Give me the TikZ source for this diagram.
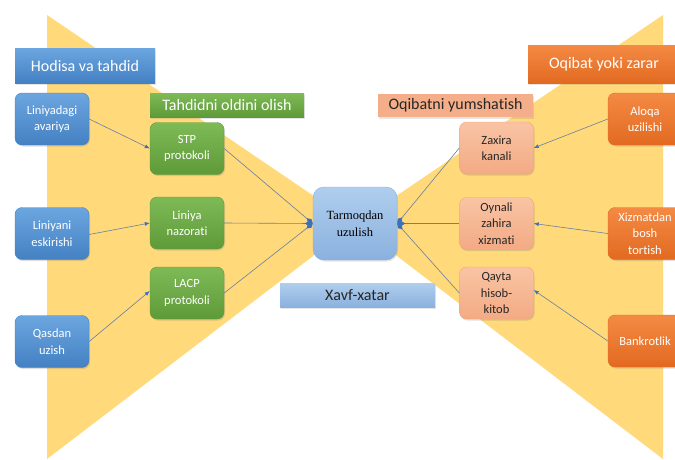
\documentclass[tikz,border=0pt]{standalone}
\usepackage{fontspec}
\setmainfont{Carlito}[Ligatures=NoCommon]
\newfontfamily\timesfont{Liberation Serif}
\usepackage{tikz}
\usetikzlibrary{positioning,arrows.meta,shadows}

\definecolor{sand}{RGB}{255,217,122}
\definecolor{blueA}{RGB}{108,166,224}
\definecolor{blueB}{RGB}{68,129,195}
\definecolor{greenA}{RGB}{126,186,86}
\definecolor{greenB}{RGB}{94,154,56}
\definecolor{orangeA}{RGB}{244,138,68}
\definecolor{orangeB}{RGB}{226,106,32}
\definecolor{salmonA}{RGB}{249,196,164}
\definecolor{salmonB}{RGB}{243,170,132}
\definecolor{skyA}{RGB}{176,206,238}
\definecolor{skyB}{RGB}{138,177,222}
\definecolor{wire}{RGB}{104,128,162}
\definecolor{tipblue}{RGB}{62,110,190}

\tikzset{
    node distance=20pt, % distance between the boxes of a column
    box/.style={rounded corners=7pt, minimum width=74pt, minimum height=52pt,
        align=center, inner sep=1pt, font=\fontsize{12.5}{16.5}\selectfont,
        drop shadow={shadow xshift=1pt, shadow yshift=-1.5pt, opacity=0.25}},
    head/.style={minimum height=24pt, inner sep=2pt,
        font=\fontsize{16}{19}\selectfont,
        drop shadow={shadow xshift=1pt, shadow yshift=-1.5pt, opacity=0.2}},
    cause/.style={box, top color=blueA, bottom color=blueB, draw=blueB, text=white},
    guard/.style={box, top color=greenA, bottom color=greenB, draw=greenB, text=white},
    harm/.style={box, top color=orangeA, bottom color=orangeB, draw=orangeB, text=white},
    soften/.style={box, top color=salmonA, bottom color=salmonB, draw=salmonB!90!orangeB, text=black!85},
    link/.style={draw=wire, line width=0.6pt},
    toarrow/.style={link, -{Latex[length=5pt,width=4pt,color=tipblue]}},
}

\begin{document}
\begin{tikzpicture}[x=1pt,y=-1pt]
   \useasboundingbox (0,0) rectangle (675,459);
   % yellow bow tie
   \fill[sand] (47,15) -- (47,459) -- (355,224) -- cycle;
   \fill[sand] (663,15) -- (663,459) -- (355,224) -- cycle;

   % causes
   \node[cause] (avariya)  at (52,119)   {Liniyadagi\\avariya};
   \node[cause] (eskirish) at (52,233.5) {Liniyani\\eskirishi};
   \node[cause] (qasdan)   at (52,341.5) {Qasdan\\uzish};

   % prevention
   \node[guard] (stp)     at (187,148.5) {STP\\protokoli};
   \node[guard] (nazorat) at (187,223)   {Liniya\\nazorati};
   \node[guard] (lacp)    at (187,293)   {LACP\\protokoli};

   % event
   \node[rounded corners=11pt, minimum width=84pt, minimum height=73pt, align=center,
         top color=skyA, bottom color=skyB, draw=skyB,
         font=\timesfont\fontsize{12.5}{16.7}\selectfont,
         drop shadow={shadow xshift=1pt, shadow yshift=-1.5pt, opacity=0.2}]
         (uzilish) at (355,223.5) {Tarmoqdan\\uzulish};

   % mitigation
   \node[soften] (zaxira) at (496.5,148)   {Zaxira\\kanali};
   \node[soften] (oynali) at (496.5,223.5) {Oynali\\zahira\\xizmati};
   \node[soften] (qayta)  at (496.5,293)   {Qayta\\hisob-\\kitob};

   % consequences
   \node[harm] (aloqa)     at (645,119) {Aloqa\\uzilishi};
   \node[harm] (xizmatdan) at (645,233.5) {Xizmatdan\\bosh\\tortish};
   \node[harm] (bankrot)   at (645,341) {Bankrotlik};

   % titles
   \node[head, minimum width=140pt, minimum height=35pt, top color=blueA, bottom color=blueB, text=white]
        (hodisa) at (85,65.5) {Hodisa va tahdid};
   \node[head, minimum width=154pt, top color=greenA, bottom color=greenB, text=white]
        (oldini) at (227,105) {Tahdidni oldini olish};
   \node[head, minimum width=152pt, minimum height=38pt, top color=orangeA, bottom color=orangeB, text=white]
        (oqibat) at (604,64) {Oqibat yoki zarar};
   \node[head, minimum width=155pt, minimum height=23pt, fill=salmonB!85!salmonA, text=black!85]
        (yumshat) at (455.5,105.5) {Oqibatni yumshatish};
   \node[head, minimum width=155pt, top color=skyA, bottom color=skyB, text=black!85]
        (xavf) at (357.5,295) {Xavf-xatar};

   % links on the left
   \draw[toarrow] (avariya.east) -- (stp.west);
   \draw[toarrow] ([yshift=-1pt]eskirish.east) -- (nazorat.west);
   \draw[toarrow] (qasdan.east) -- ([yshift=2pt]lacp.west);
   \foreach \src in {stp,nazorat,lacp}
      \draw[link, -{Diamond[length=8pt,width=5pt,color=tipblue]}] (\src.east) -- (uzilish.west);

   % links on the right
   \foreach \dst in {zaxira,oynali,qayta}
      \draw[link, {Diamond[length=8pt,width=5pt,color=tipblue]}-] (uzilish.east) -- (\dst.west);
   \draw[toarrow] (aloqa.west) -- (zaxira.east);
   \draw[toarrow] (xizmatdan.west) -- (oynali.east);
   \draw[toarrow] (bankrot.west) -- ([yshift=3pt]qayta.east);
\end{tikzpicture}
\end{document}
